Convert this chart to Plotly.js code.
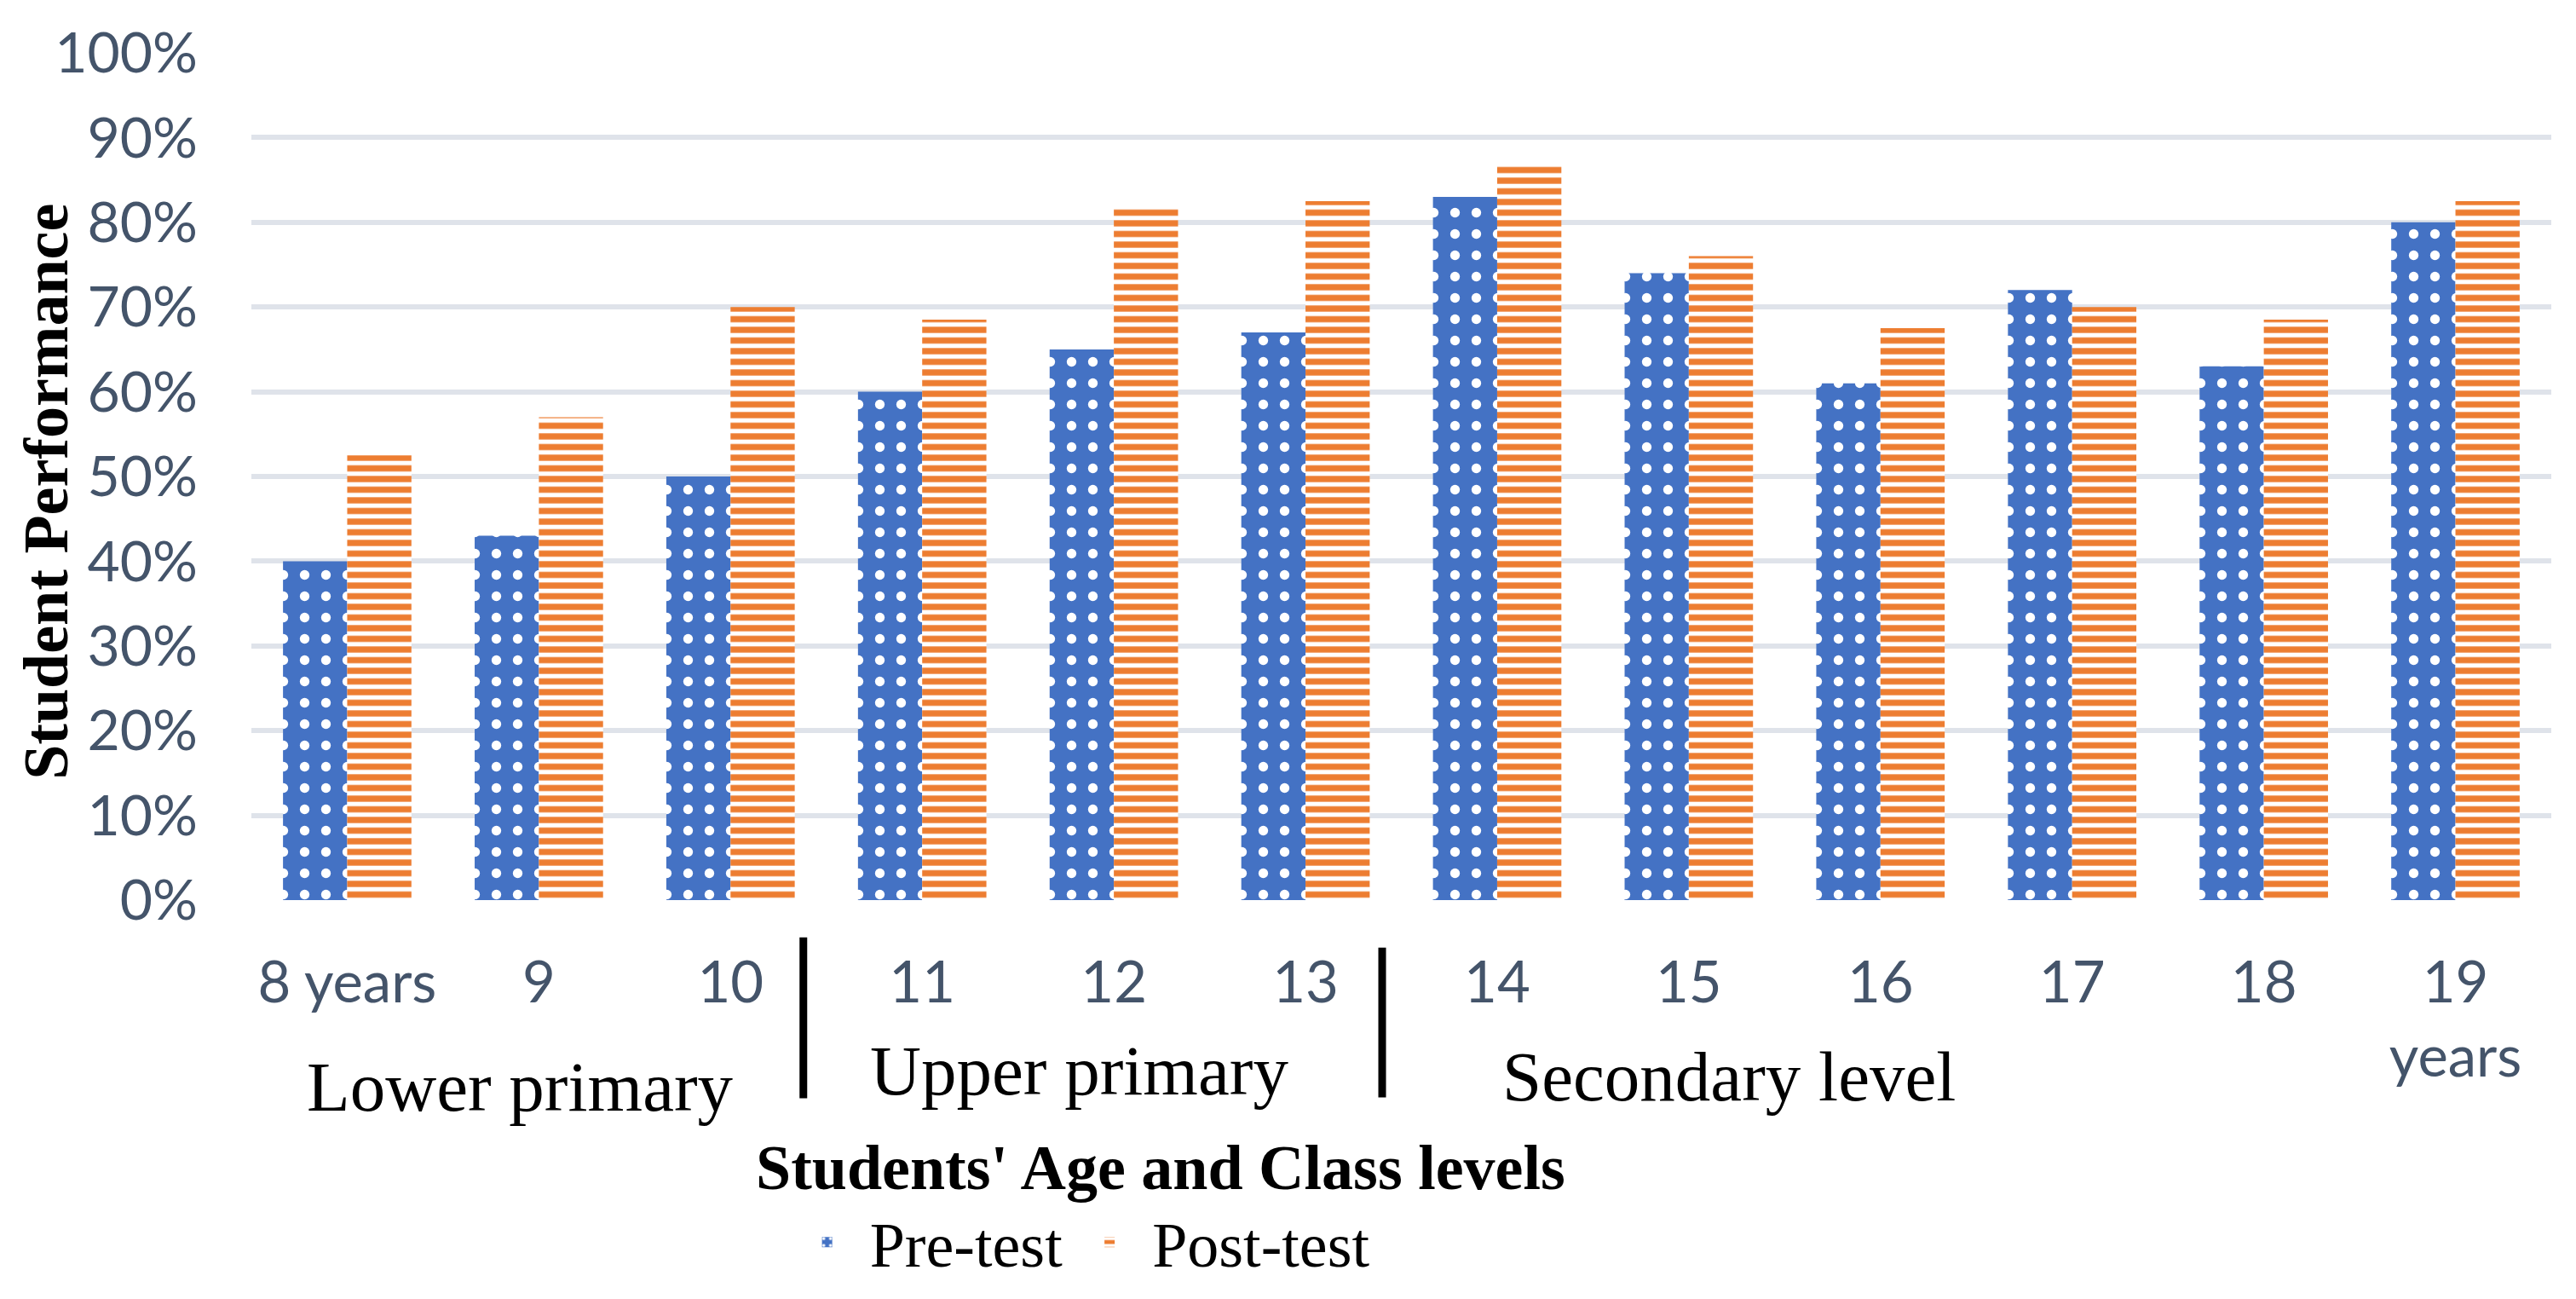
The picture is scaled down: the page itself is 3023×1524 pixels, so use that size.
<!DOCTYPE html>
<html>
<head>
<meta charset="utf-8">
<script src="https://cdn.plot.ly/plotly-3.0.1.min.js"></script>
<style>html,body{margin:0;padding:0;background:#fff;}#chart{width:3023px;height:1524px;}</style>
</head>
<body>
<div id="chart"></div>
<script>
const categories = ["8 years","9","10","11","12","13","14","15","16","17","18","19<br>years"];
const preTest  = [40, 43, 50, 60, 65, 67, 83, 74, 61, 72, 63, 80];
const postTest = [52.5, 57, 70, 68.5, 82, 82.5, 87, 76, 67.5, 70, 68.5, 82.5];
const yTicks = [0,10,20,30,40,50,60,70,80,90,100];
const yTickLabels = ["0%","10%","20%","30%","40%","50%","60%","70%","80%","90%","100%"];
const groupLabels = ["Lower primary","Upper primary","Secondary level"];

const serif = "Liberation Serif, Times New Roman, serif";
const sans = "Lato, Carlito, Calibri, sans-serif";
const data = [
  {type:'bar', name:'Pre-test', x:categories, y:preTest,
   marker:{color:'#4472C4', line:{width:0},
     pattern:{shape:'.', fgcolor:'#ffffff', fgopacity:1, bgcolor:'#4472C4', size:25, solidity:0.16, fillmode:'overlay'}},
   hoverinfo:'x+y'},
  {type:'bar', name:'Post-test', x:categories, y:postTest,
   marker:{color:'#ED7D31', line:{width:0},
     pattern:{shape:'-', fgcolor:'#ffffff', fgopacity:1, bgcolor:'#ED7D31', size:12.5, solidity:0.42, fillmode:'overlay'}},
   hoverinfo:'x+y'}
];

const layout = {
  width:3023, height:1524,
  margin:{l:295, r:29, t:62, b:460},
  paper_bgcolor:'#ffffff', plot_bgcolor:'#ffffff',
  barmode:'group', bargap:0.33, bargroupgap:0,
  showlegend:true,
  legend:{orientation:'h', x:0.36, xanchor:'center', y:-0.404, yanchor:'middle',
          font:{family:serif, size:74, color:'#000000'}, itemwidth:90, traceorder:'normal'},
  xaxis:{type:'category', showgrid:false, zeroline:false, showline:false, ticks:'',
         tickfont:{family:sans, size:67, color:'#44546A'},
         ticklabelstandoff:52, automargin:false},
  yaxis:{range:[0,100], tickmode:'array', tickvals:yTicks, ticktext:yTickLabels, showgrid:true, gridcolor:'#DFE3EA', gridwidth:6,
         zeroline:false, showline:false, ticks:'',
         tickfont:{family:sans, size:66, color:'#44546A'},
         ticklabelstandoff:62, automargin:false},
  shapes:[
    {type:'line', xref:'x', yref:'paper', x0:2.38, x1:2.38, y0:-0.044, y1:-0.234, line:{color:'#000', width:9}},
    {type:'line', xref:'x', yref:'paper', x0:5.4, x1:5.4, y0:-0.056, y1:-0.233, line:{color:'#000', width:9}}
  ],
  annotations:[
    {text:groupLabels[0], xref:'x', yref:'paper', x:0.904, y:-0.2206, showarrow:false, xanchor:'center', yanchor:'middle', font:{family:serif, size:83, color:'#000'}},
    {text:groupLabels[1], xref:'x', yref:'paper', x:3.82, y:-0.2016, showarrow:false, xanchor:'center', yanchor:'middle', font:{family:serif, size:83, color:'#000'}},
    {text:groupLabels[2], xref:'x', yref:'paper', x:7.21, y:-0.2086, showarrow:false, xanchor:'center', yanchor:'middle', font:{family:serif, size:83, color:'#000'}},
    {text:"<b>Students' Age and Class levels</b>", xref:'paper', yref:'paper', x:0.3953, y:-0.3154, showarrow:false, xanchor:'center', yanchor:'middle', font:{family:serif, size:74, color:'#000'}},
    {text:"<b>Student Performance</b>", xref:'paper', yref:'paper', x:-0.0893, y:0.482, showarrow:false, textangle:-90, xanchor:'center', yanchor:'middle', font:{family:serif, size:74, color:'#000'}}
  ]
};

Plotly.newPlot('chart', data, layout, {staticPlot:true, displayModeBar:false});
</script>
</body>
</html>
